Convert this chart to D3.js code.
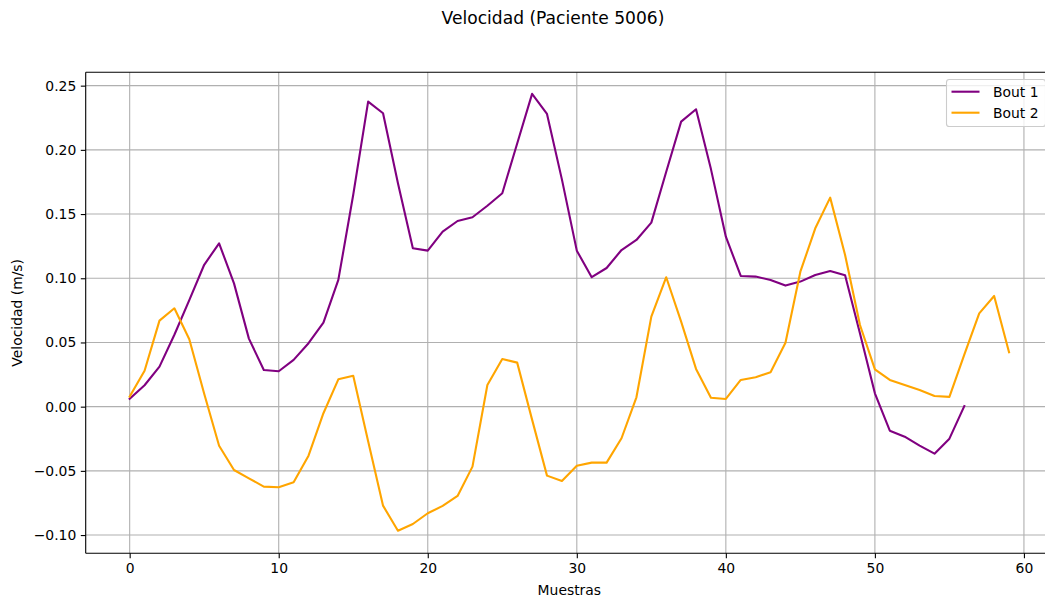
<!DOCTYPE html>
<html>
<head>
<meta charset="utf-8">
<script src="https://cdn.jsdelivr.net/npm/d3@7"></script>
<style>
  html, body { margin: 0; padding: 0; background: #fff; }
  svg { display: block; font-family: "DejaVu Sans", sans-serif; }
</style>
</head>
<body>
<svg id="chart" width="1045" height="601"></svg>
<script>
// Velocity samples for each bout (m/s)
const bout1 = [0.0062, 0.0167, 0.0312, 0.0560, 0.0830, 0.1105, 0.1272, 0.0960, 0.0530, 0.0286,
               0.0276, 0.0364, 0.0494, 0.0654, 0.0987, 0.1650, 0.2376, 0.2285, 0.1740, 0.1234,
               0.1215, 0.1363, 0.1446, 0.1475, 0.1565, 0.1662, 0.2050, 0.2436, 0.2280, 0.1770,
               0.1215, 0.1008, 0.1080, 0.1220, 0.1298, 0.1433, 0.1830, 0.2220, 0.2316, 0.1850,
               0.1324, 0.1018, 0.1013, 0.0987, 0.0943, 0.0974, 0.1026, 0.1057, 0.1023, 0.0570,
               0.0104, -0.0187, -0.0234, -0.0304, -0.0366, -0.0249, 0.0005];
const bout2 = [0.0078, 0.0280, 0.0670, 0.0766, 0.0525, 0.0100, -0.0304, -0.0493, -0.0558, -0.0623,
               -0.0628, -0.0589, -0.0382, -0.0051, 0.0213, 0.0241, -0.0270, -0.0771, -0.0966, -0.0914,
               -0.0830, -0.0773, -0.0695, -0.0467, 0.0169, 0.0371, 0.0343, -0.0101, -0.0537, -0.0579,
               -0.0460, -0.0436, -0.0436, -0.0246, 0.0073, 0.0701, 0.1008, 0.0662, 0.0294, 0.0070,
               0.0060, 0.0208, 0.0229, 0.0268, 0.0498, 0.1051, 0.1389, 0.1628, 0.1181, 0.0636,
               0.0291, 0.0208, 0.0169, 0.0130, 0.0083, 0.0076, 0.0405, 0.0727, 0.0862, 0.0424];
const seriesNames = ["Bout 1", "Bout 2"];
const xTicks = [0, 10, 20, 30, 40, 50, 60];
const yTicks = [-0.10, -0.05, 0.00, 0.05, 0.10, 0.15, 0.20, 0.25];
const xLimits = [-2.95, 61.95];
const yLimits = [-0.1142, 0.2604];

const title = "Velocidad (Paciente 5006)";
const xTitle = "Muestras";
const yTitle = "Velocidad (m/s)";

const colors = ["#800080", "#ffa500"];
const plot = { left: 85.7, right: 1053, top: 72.3, bottom: 553.3 };

const svg = d3.select("#chart");

const x = d3.scaleLinear().domain(xLimits).range([plot.left, plot.right]);
const y = d3.scaleLinear().domain(yLimits).range([plot.bottom, plot.top]);

// grid
const grid = svg.append("g");
grid.selectAll("line.gx").data(xTicks).join("line")
  .attr("x1", d => x(d)).attr("x2", d => x(d))
  .attr("y1", plot.top).attr("y2", plot.bottom)
  .attr("stroke", "#b0b0b0").attr("stroke-width", 1.1);
grid.selectAll("line.gy").data(yTicks).join("line")
  .attr("y1", d => y(d)).attr("y2", d => y(d))
  .attr("x1", plot.left).attr("x2", plot.right)
  .attr("stroke", "#b0b0b0").attr("stroke-width", 1.1);

// series lines
const line = d3.line().x((d, i) => x(i)).y(d => y(d));
[bout1, bout2].forEach((data, k) => {
  svg.append("path")
    .datum(data)
    .attr("d", line)
    .attr("fill", "none")
    .attr("stroke", colors[k])
    .attr("stroke-width", 2.1)
    .attr("stroke-linejoin", "round")
    .attr("stroke-linecap", "square");
});

// axes
const fmtY = v => d3.format(".2f")(v).replace("-", "\u2212");
const xAxis = svg.append("g")
  .attr("transform", `translate(0,${plot.bottom})`)
  .call(d3.axisBottom(x).tickValues(xTicks).tickSize(4.9).tickPadding(4.5).tickFormat(d3.format("d")));
const yAxis = svg.append("g")
  .attr("transform", `translate(${plot.left},0)`)
  .call(d3.axisLeft(y).tickValues(yTicks).tickSize(4.9).tickPadding(4.5).tickFormat(fmtY));
[xAxis, yAxis].forEach(g => {
  g.select(".domain").remove();
  g.selectAll(".tick line").attr("stroke", "#000").attr("stroke-width", 1.1);
  g.selectAll(".tick text").attr("fill", "#000").style("font-size", "13.9px")
    .style("font-family", "DejaVu Sans, sans-serif");
});

// spines (left, top, bottom; right lies outside the view)
const spine = svg.append("g").attr("stroke", "#000").attr("stroke-width", 1.1).attr("fill", "none");
spine.append("line").attr("x1", plot.left).attr("x2", plot.left).attr("y1", plot.top).attr("y2", plot.bottom);
spine.append("line").attr("x1", plot.left).attr("x2", plot.right).attr("y1", plot.bottom).attr("y2", plot.bottom);
spine.append("line").attr("x1", plot.left).attr("x2", plot.right).attr("y1", plot.top).attr("y2", plot.top);
spine.append("line").attr("x1", plot.right).attr("x2", plot.right).attr("y1", plot.top).attr("y2", plot.bottom);

// titles
svg.append("text")
  .attr("x", 553).attr("y", 23.5)
  .attr("text-anchor", "middle")
  .style("font-size", "17.1px").attr("fill", "#000")
  .text(title);
svg.append("text")
  .attr("x", (plot.left + plot.right) / 2).attr("y", 594.5)
  .attr("text-anchor", "middle")
  .style("font-size", "13.9px").attr("fill", "#000")
  .text(xTitle);
svg.append("text")
  .attr("transform", `translate(22,${(plot.top + plot.bottom) / 2}) rotate(-90)`)
  .attr("text-anchor", "middle")
  .style("font-size", "13.9px").attr("fill", "#000")
  .text(yTitle);

// legend
const lg = svg.append("g");
lg.append("rect")
  .attr("x", 946.5).attr("y", 79.5).attr("width", 99).attr("height", 47)
  .attr("rx", 2.8).attr("fill", "#fff").attr("fill-opacity", 0.8)
  .attr("stroke", "#cccccc").attr("stroke-width", 1.1);
seriesNames.forEach((name, i) => {
  const cy = 91.7 + i * 21;
  lg.append("line")
    .attr("x1", 951.5).attr("x2", 979.5).attr("y1", cy).attr("y2", cy)
    .attr("stroke", colors[i]).attr("stroke-width", 2.1);
  lg.append("text")
    .attr("x", 993).attr("y", cy + 5)
    .style("font-size", "13.9px").attr("fill", "#000")
    .text(name);
});
</script>
</body>
</html>
